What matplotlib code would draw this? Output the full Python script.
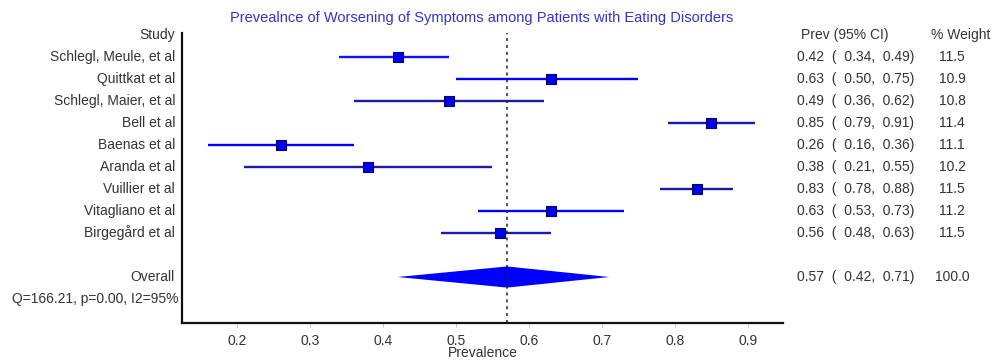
import matplotlib.pyplot as plt
import matplotlib.transforms as mtransforms
import numpy as np

plt.rcParams['font.family'] = ['Liberation Sans', 'DejaVu Sans']

studies = ['Schlegl, Meule, et al', 'Quittkat et al', 'Schlegl, Maier, et al', 'Bell et al',
           'Baenas et al', 'Aranda et al', 'Vuillier et al', 'Vitagliano et al', 'Birgeg\u00e5rd et al']
prev = [0.42, 0.63, 0.49, 0.85, 0.26, 0.38, 0.83, 0.63, 0.56]
lo = [0.34, 0.50, 0.36, 0.79, 0.16, 0.21, 0.78, 0.53, 0.48]
hi = [0.49, 0.75, 0.62, 0.91, 0.36, 0.55, 0.88, 0.73, 0.63]
weight = [11.5, 10.9, 10.8, 11.4, 11.1, 10.2, 11.5, 11.2, 11.5]
overall = (0.57, 0.42, 0.71)
overall_weight = 100.0
stats_text = 'Q=166.21, p=0.00, I2=95%'
xticks = [0.2, 0.3, 0.4, 0.5, 0.6, 0.7, 0.8, 0.9]

W, H = 993, 361
fig = plt.figure(figsize=(W / 100, H / 100), dpi=100)
ax = fig.add_axes([182 / W, (H - 323) / H, (783 - 182) / W, (323 - 33) / H])

txt = '#333333'
line_cols = ['#1010ff', '#0000ff', '#1a1aa8', '#1a1aa8', '#0000ff', '#1a1aa8', '#1a1aa8', '#0000ff', '#1a1aa8']
rows = np.arange(1, len(studies) + 1)
for r, p, l, h, c in zip(rows, prev, lo, hi, line_cols):
    ax.plot([l, h], [r, r], color=c, lw=1.7, solid_capstyle='butt')
    ax.plot(p, r, marker='s', ms=7, mfc='#0000ee', mec='#000060', mew=0.8)

# overall diamond
ov_row = len(studies) + 2
est, olo, ohi = overall
ax.fill([olo, est, ohi, est], [ov_row, ov_row - 0.48, ov_row, ov_row + 0.48], color='#0000ff', lw=0)
ax.axvline(est, color='#222222', lw=1.1, ls=(0, (2, 2.5)))

ax.set_xlim(0.1247, 0.948)
ax.set_ylim(13.09, -0.09)
ax.set_xticks(xticks)
ax.set_xticklabels(['%.1f' % t for t in xticks])
ax.set_yticks([])
ax.tick_params(axis='x', colors='#cccccc', length=3, width=0.8, labelcolor=txt, labelsize=10, pad=5)
for s in ['top', 'right']:
    ax.spines[s].set_visible(False)
for s in ['left', 'bottom']:
    ax.spines[s].set_linewidth(1.6)
    ax.spines[s].set_color('#111111')
ax.set_xlabel('Prevalence', color=txt, fontsize=10, labelpad=0)
ax.xaxis.set_label_coords((483 - 182) / (783 - 182), -0.08)

tr = mtransforms.blended_transform_factory(fig.transFigure, ax.transData)
fs = 10
ax.text(175 / W, 0, 'Study', transform=tr, ha='right', va='center', fontsize=fs, color=txt)
ax.text(801 / W, 0, 'Prev (95% CI)', transform=tr, ha='left', va='center', fontsize=fs, color=txt)
ax.text(931 / W, 0, '% Weight', transform=tr, ha='left', va='center', fontsize=fs, color=txt)
for r, name, p, l, h, w in zip(rows, studies, prev, lo, hi, weight):
    ax.text(175 / W, r, name, transform=tr, ha='right', va='center', fontsize=fs, color=txt)
    ax.text(797 / W, r, '%.2f  (  %.2f,  %.2f)' % (p, l, h), transform=tr, ha='left', va='center', fontsize=fs, color=txt)
    ax.text(952 / W, r, '%.1f' % w, transform=tr, ha='center', va='center', fontsize=fs, color=txt)
ax.text(175 / W, ov_row, 'Overall', transform=tr, ha='right', va='center', fontsize=fs, color=txt)
ax.text(797 / W, ov_row, '%.2f  (  %.2f,  %.2f)' % overall, transform=tr, ha='left', va='center', fontsize=fs, color=txt)
ax.text(952 / W, ov_row, '%.1f' % overall_weight, transform=tr, ha='center', va='center', fontsize=fs, color=txt)
ax.text(179 / W, ov_row + 1, stats_text, transform=tr, ha='right', va='center', fontsize=fs, color=txt)

fig.text(482 / W, 1 - 18 / H, 'Prevealnce of Worsening of Symptoms among Patients with Eating Disorders',
         ha='center', va='center', fontsize=10.5, color='#3333cc')

fig.savefig('out.png', dpi=100)
